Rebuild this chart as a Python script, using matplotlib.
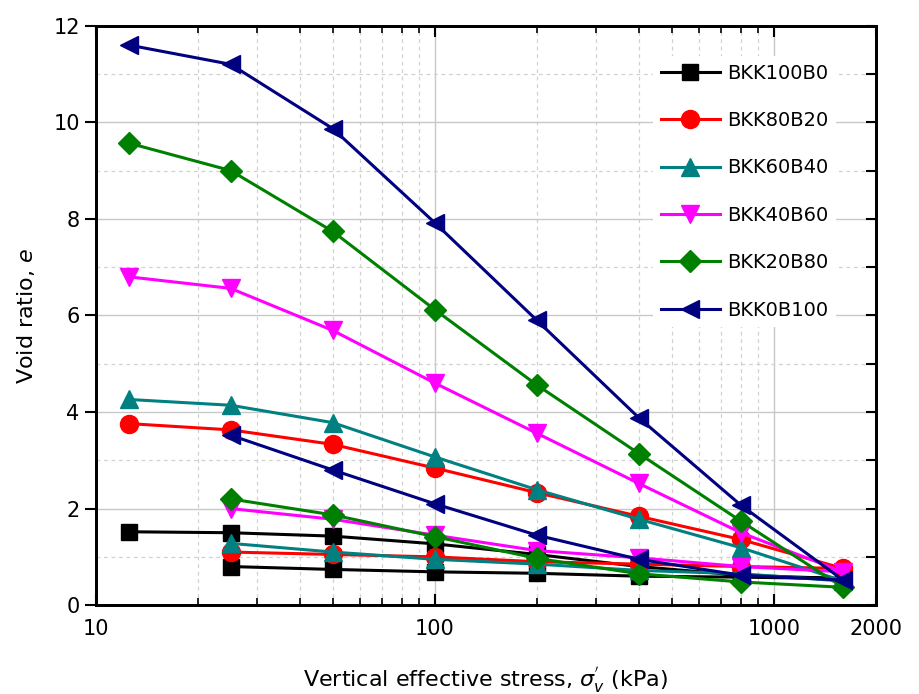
import matplotlib
matplotlib.use("Agg")
import matplotlib.pyplot as plt
from matplotlib.ticker import FixedLocator, NullFormatter

stress_load = [12.5, 25, 50, 100, 200, 400, 800, 1600]
stress_unload = [800, 400, 200, 100, 50, 25]

names = ["BKK100B0", "BKK80B20", "BKK60B40", "BKK40B60", "BKK20B80", "BKK0B100"]
colors = ["#000000", "#ff0000", "#008080", "#ff00ff", "#008000", "#000080"]
markers = ["s", "o", "^", "v", "D", "<"]
msizes = [12, 13, 13, 13, 11, 13]

e_load = {
    "BKK100B0": [1.52, 1.50, 1.43, 1.27, 1.05, 0.80, 0.62, 0.55],
    "BKK80B20": [3.76, 3.63, 3.33, 2.84, 2.33, 1.84, 1.36, 0.76],
    "BKK60B40": [4.26, 4.14, 3.78, 3.07, 2.39, 1.78, 1.19, 0.50],
    "BKK40B60": [6.80, 6.56, 5.69, 4.60, 3.56, 2.52, 1.50, 0.69],
    "BKK20B80": [9.57, 9.00, 7.74, 6.12, 4.56, 3.14, 1.74, 0.37],
    "BKK0B100": [11.60, 11.20, 9.87, 7.92, 5.90, 3.88, 2.07, 0.52],
}
e_unload = {
    "BKK100B0": [0.58, 0.60, 0.66, 0.69, 0.74, 0.80],
    "BKK80B20": [0.80, 0.85, 0.90, 1.00, 1.05, 1.10],
    "BKK60B40": [0.65, 0.72, 0.85, 0.95, 1.10, 1.28],
    "BKK40B60": [0.80, 0.98, 1.13, 1.45, 1.78, 2.00],
    "BKK20B80": [0.48, 0.65, 0.97, 1.42, 1.87, 2.20],
    "BKK0B100": [0.62, 0.95, 1.45, 2.10, 2.80, 3.52],
}

fig = plt.figure(figsize=(9.2, 6.94), dpi=100)
ax = fig.add_axes([0.104, 0.128, 0.848, 0.835])

for n, c, m, ms in zip(names, colors, markers, msizes):
    xs = stress_load + stress_unload
    ys = e_load[n] + e_unload[n]
    ax.plot(xs, ys, color=c, marker=m, markersize=ms, linewidth=2.2,
            markeredgecolor=c, label=n, zorder=3)

ax.set_xscale("log")
ax.set_xlim(10, 2000)
ax.set_ylim(0, 12)

ax.xaxis.set_major_locator(FixedLocator([10, 100, 1000, 2000]))
ax.set_xticklabels(["10", "100", "1000", "2000"])
minor_x = [v * d for d in (10, 100) for v in range(2, 10)]
ax.xaxis.set_minor_locator(FixedLocator(minor_x))
ax.xaxis.set_minor_formatter(NullFormatter())
ax.set_yticks([0, 2, 4, 6, 8, 10, 12])
ax.yaxis.set_minor_locator(FixedLocator([1, 3, 5, 7, 9, 11]))

ax.grid(which="major", color="#c8c8c8", linestyle="-", linewidth=1.0, zorder=0)
ax.grid(which="minor", color="#d0d0d0", linestyle=(0, (3, 3)), linewidth=0.9, zorder=0)
ax.set_axisbelow(True)

ax.tick_params(axis="x", which="both", direction="in", top=True, bottom=True,
               labelsize=15, pad=10)
ax.tick_params(axis="x", which="major", length=8, width=1.5)
ax.tick_params(axis="x", which="minor", length=5, width=1.2)
ax.tick_params(axis="y", which="major", direction="out", length=8, width=1.5,
               labelsize=15, right=False)
ax.tick_params(axis="y", which="minor", direction="out", length=0)
ax2 = ax.twinx()
ax2.set_ylim(0, 12)
ax2.set_yticks(range(0, 13))
ax2.tick_params(axis="y", direction="in", length=7, width=1.5, labelright=False)

for a in (ax, ax2):
    for s in a.spines.values():
        s.set_linewidth(2.0)

ax.set_ylabel("Void ratio, $e$", fontsize=16, labelpad=12)
ax.set_xlabel("Vertical effective stress, $\\sigma_v^{'}$ (kPa)", fontsize=16, labelpad=18)

leg = ax.legend(loc="upper left", bbox_to_anchor=(0.715, 0.948), frameon=True,
                fontsize=14, handlelength=3.0, labelspacing=1.46,
                handletextpad=0.4, borderpad=0.4, borderaxespad=0.0,
                framealpha=1.0, fancybox=False)
leg.get_frame().set_edgecolor("white")
leg.get_frame().set_linewidth(0)
leg.set_zorder(5)

fig.savefig("out.png", dpi=100)
